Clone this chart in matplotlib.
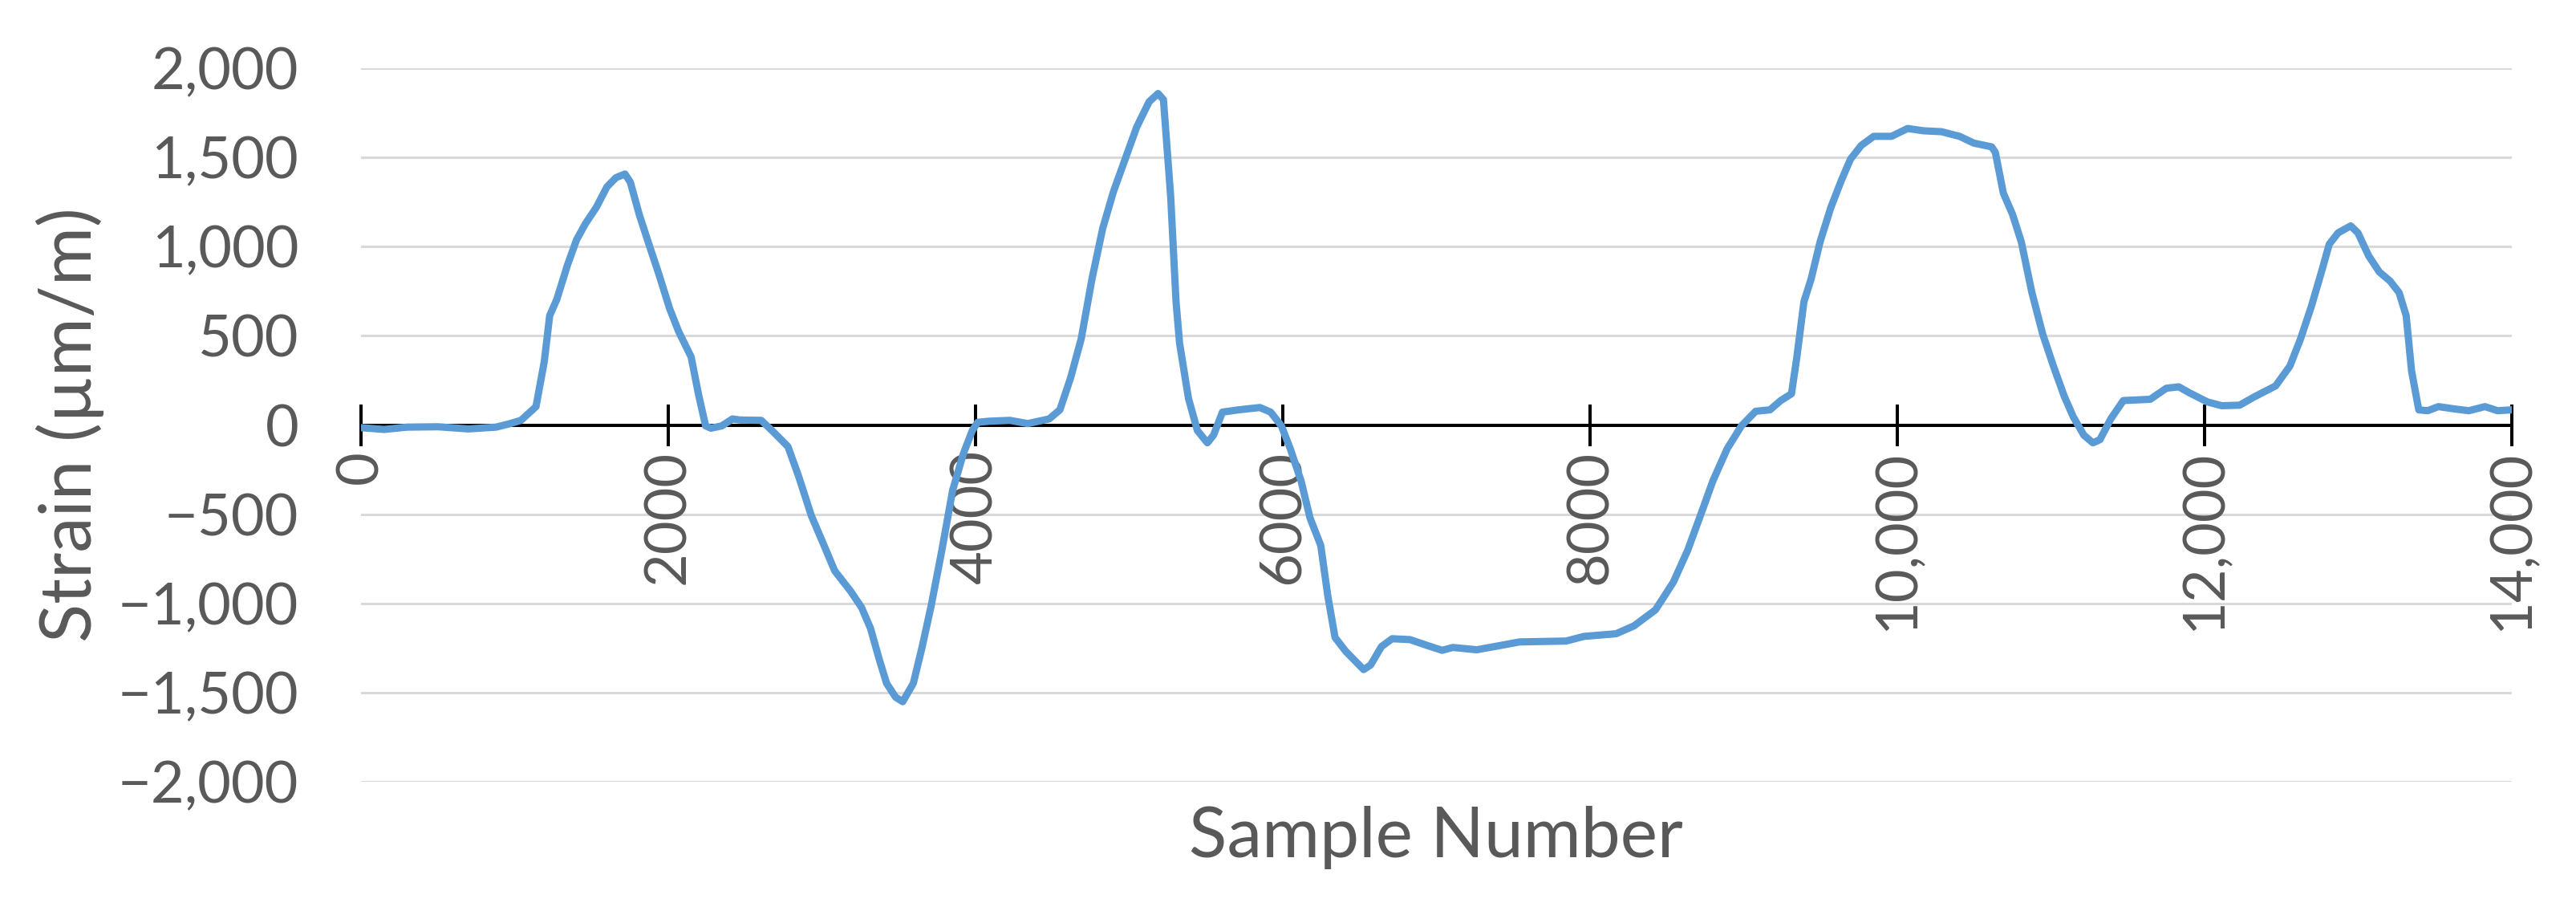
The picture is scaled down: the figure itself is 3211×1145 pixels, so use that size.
import matplotlib
matplotlib.use("Agg")
import matplotlib.pyplot as plt
from matplotlib.ticker import FixedLocator, FixedFormatter

plt.rcParams['font.family'] = ['Lato', 'DejaVu Sans']

# strain trace (sample number, micro-strain)
sample = [0, 150, 300, 500, 700, 880, 971, 1041, 1139, 1193, 1228, 1274, 1344, 1403,
          1461, 1531, 1601, 1659, 1718, 1753, 1811, 1869, 1939, 2009, 2068, 2149,
          2196, 2243, 2278, 2348, 2418, 2465, 2605, 2675, 2779, 2849, 2931, 3001,
          3083, 3188, 3258, 3316, 3375, 3421, 3480, 3526, 3595, 3653, 3712, 3781,
          3851, 3921, 3979, 4014, 4084, 4223, 4340, 4479, 4549, 4619, 4688, 4758,
          4828, 4898, 4979, 5049, 5130, 5188, 5223, 5270, 5305, 5328, 5386, 5444,
          5509, 5549, 5607, 5712, 5851, 5921, 5991, 6049, 6119, 6177, 6247, 6293,
          6340, 6409, 6526, 6572, 6642, 6712, 6828, 6944, 7037, 7107, 7262, 7378,
          7541, 7844, 7960, 8170, 8286, 8426, 8542, 8636, 8729, 8799, 8892, 8985,
          9078, 9171, 9241, 9311, 9346, 9392, 9439, 9497, 9567, 9637, 9695, 9765,
          9846, 9962, 10067, 10172, 10288, 10405, 10498, 10614, 10638, 10690, 10750,
          10807, 10876, 10946, 11016, 11086, 11145, 11214, 11273, 11319, 11389,
          11471, 11646, 11751, 11832, 11902, 12019, 12112, 12228, 12322, 12462,
          12555, 12625, 12695, 12765, 12811, 12869, 12951, 12998, 13068, 13137,
          13207, 13266, 13312, 13347, 13394, 13452, 13522, 13627, 13720, 13825,
          13907, 14000]
strain = [-15, -25, -12, -10, -22, -12, 8, 26, 103, 356, 613, 703, 897, 1038,
          1129, 1219, 1335, 1386, 1407, 1361, 1180, 1026, 845, 652, 523, 381,
          175, -5, -18, -5, 34, 28, 26, -31, -121, -289, -508, -649,
          -817, -933, -1023, -1139, -1319, -1448, -1526, -1551, -1448, -1242, -1010, -701,
          -366, -160, -31, 15, 21, 26, 8, 34, 85, 265, 484, 819,
          1103, 1309, 1502, 1670, 1812, 1858, 1824, 1283, 691, 459, 149, -31,
          -100, -57, 72, 85, 98, 72, -5, -134, -314, -521, -675, -959,
          -1191, -1268, -1371, -1345, -1242, -1198, -1203, -1237, -1263, -1247, -1260, -1242,
          -1216, -1211, -1185, -1170, -1126, -1036, -881, -701, -482, -314, -134, -5,
          77, 85, 137, 175, 381, 691, 819, 1026, 1219, 1374, 1490, 1567,
          1618, 1618, 1662, 1649, 1644, 1618, 1580, 1559, 1528, 1300, 1180,
          1026, 742, 510, 330, 162, 46, -57, -100, -82, 34,
          137, 144, 206, 214, 180, 129, 108, 111, 157, 219,
          330, 484, 665, 871, 1013, 1077, 1116, 1077, 948, 858,
          807, 742, 613, 304, 85, 80, 103, 90, 80, 103,
          80, 85]

x_ticks = [0, 2000, 4000, 6000, 8000, 10000, 12000, 14000]
x_labels = ['0', '2000', '4000', '6000', '8000', '10,000', '12,000', '14,000']
y_ticks = [-2000, -1500, -1000, -500, 0, 500, 1000, 1500, 2000]
y_labels = ['\u22122,000', '\u22121,500', '\u22121,000', '\u2212500', '0',
            '500', '1,000', '1,500', '2,000']

text_col = '#595959'

fig = plt.figure(figsize=(32.12, 11.45), dpi=100)
ax = fig.add_axes([0.1401, 0.1493, 0.8347, 0.7765])

ax.plot(sample, strain, color='#5B9BD5', lw=6.5, solid_joinstyle='round',
        solid_capstyle='round', zorder=3)

ax.set_xlim(0, 14000)
ax.set_ylim(-2000, 2000)

ax.yaxis.set_major_locator(FixedLocator(y_ticks))
ax.yaxis.set_major_formatter(FixedFormatter(y_labels))
ax.xaxis.set_major_locator(FixedLocator(x_ticks))
ax.xaxis.set_major_formatter(FixedFormatter(x_labels))

# horizontal gridlines, skipping zero where the axis line sits
for v in y_ticks:
    if v != 0:
        ax.axhline(v, color='#D9D9D9', lw=2.2, zorder=1)

for s in ['top', 'right', 'left']:
    ax.spines[s].set_visible(False)
ax.spines['bottom'].set_position(('data', 0))
ax.spines['bottom'].set_linewidth(2.9)
ax.spines['bottom'].set_color('black')
ax.spines['bottom'].set_zorder(2)

ax.tick_params(axis='y', length=0, pad=56, labelsize=52, labelcolor=text_col)
ax.tick_params(axis='x', direction='inout', length=37, width=2.9, color='black',
               pad=4, labelsize=52, labelcolor=text_col, labelrotation=90)

ax.set_ylabel('Strain (\u00b5m/m)', fontsize=64, color=text_col)
ax.yaxis.set_label_coords(-0.1195, 0.5)
fig.text(0.5573, 0.089, 'Sample Number', fontsize=63, color=text_col,
         ha='center', va='center')

fig.savefig('out.png', dpi=100)
